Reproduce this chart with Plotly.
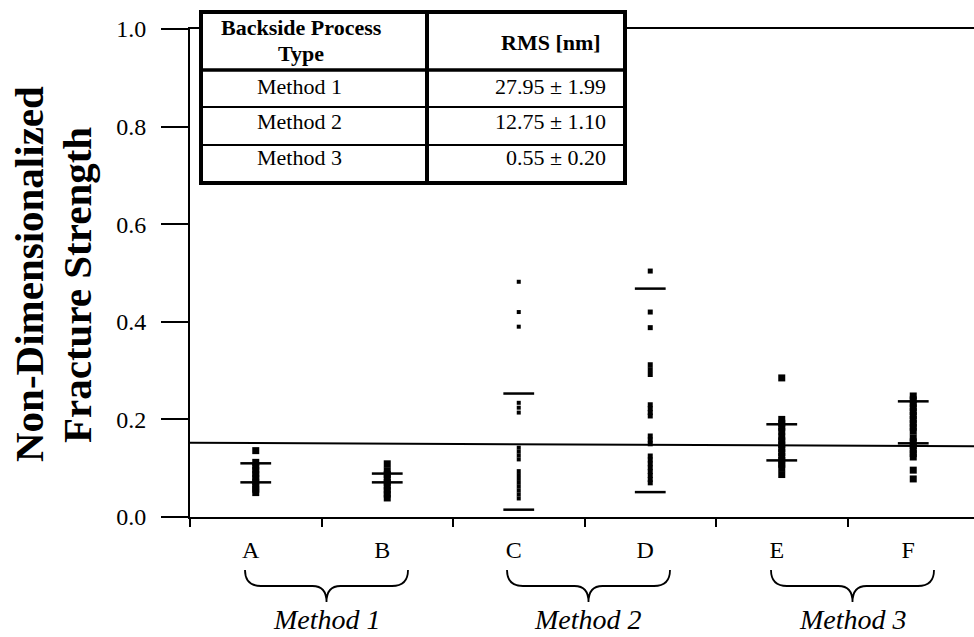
import plotly.graph_objects as go

# ---------------- data ----------------
categories = ["A", "B", "C", "D", "E", "F"]

points_A = [0.136, 0.112, 0.104, 0.096, 0.088, 0.080, 0.072, 0.064, 0.057, 0.050]
points_B = [0.109, 0.095, 0.087, 0.079, 0.071, 0.063, 0.055, 0.047, 0.039]
points_C = [0.482, 0.420, 0.390, 0.234, 0.224, 0.214, 0.142, 0.134, 0.126, 0.118,
            0.094, 0.086, 0.078, 0.070, 0.062, 0.054, 0.046, 0.038]
points_D = [0.504, 0.420, 0.388, 0.312, 0.302, 0.292, 0.230, 0.222, 0.214, 0.207,
            0.166, 0.158, 0.150, 0.125, 0.117, 0.109, 0.101, 0.093, 0.085, 0.077, 0.070]
points_E = [0.285, 0.200, 0.192, 0.184, 0.176, 0.164, 0.156, 0.148, 0.140, 0.132,
            0.124, 0.116, 0.108, 0.101, 0.087]
points_F = [0.248, 0.240, 0.232, 0.224, 0.216, 0.208, 0.200, 0.192, 0.184, 0.176,
            0.162, 0.154, 0.146, 0.138, 0.130, 0.123, 0.096, 0.078]

bar_upper = [0.110, 0.089, 0.253, 0.468, 0.190, 0.237]
bar_lower = [0.071, 0.071, 0.015, 0.051, 0.116, 0.151]

threshold_line = [0.152, 0.145]   # reference line, left end / right end

y_ticks = [0.0, 0.2, 0.4, 0.6, 0.8, 1.0]
y_tick_labels = ["0.0", "0.2", "0.4", "0.6", "0.8", "1.0"]

groups = ["Method 1", "Method 2", "Method 3"]
table_header = ["Backside Process", "Type", "RMS [nm]"]
table_methods = ["Method 1", "Method 2", "Method 3"]
table_rms = ["27.95 ± 1.99", "12.75 ± 1.10", "0.55 ± 0.20"]

# ---------------- layout helpers ----------------
W, H = 974, 637
L, R, T, B = 190, 974, 29, 517
FONT = "Liberation Serif, Times New Roman, serif"


def px_x(px):
    return (px - L) / (R - L)


def px_y(py):
    return (B - py) / (B - T)


all_points = [points_A, points_B, points_C, points_D, points_E, points_F]
marker_sizes = {"A": 7, "B": 7, "C": 4, "D": 5, "E": 7, "F": 7}

fig = go.Figure()

for cat, pts in zip(categories, all_points):
    fig.add_trace(go.Scatter(
        x=[cat] * len(pts), y=pts, mode="markers",
        marker=dict(symbol="square", size=marker_sizes[cat], color="black",
                    line=dict(width=0)),
        showlegend=False, hoverinfo="y"))

for arr in (bar_upper, bar_lower):
    fig.add_trace(go.Scatter(
        x=categories, y=arr, mode="markers",
        marker=dict(symbol="line-ew", size=22, color="black",
                    line=dict(width=2.5, color="black")),
        showlegend=False, hoverinfo="y"))

shapes = []
# reference line across plot
shapes.append(dict(type="line", xref="paper", yref="y", x0=0, x1=1,
                   y0=threshold_line[0], y1=threshold_line[1],
                   line=dict(color="black", width=2), layer="below"))

# table
tx0, tx1, tmid = 201, 625, 427
ty0, ty1 = 12, 183
row_lines = [70, 107, 145]
shapes.append(dict(type="rect", xref="paper", yref="paper",
                   x0=px_x(tx0), x1=px_x(tx1), y0=px_y(ty1), y1=px_y(ty0),
                   fillcolor="white", line=dict(color="black", width=4), layer="above"))
for i, ry in enumerate(row_lines):
    shapes.append(dict(type="line", xref="paper", yref="paper",
                       x0=px_x(tx0), x1=px_x(tx1), y0=px_y(ry), y1=px_y(ry),
                       line=dict(color="black", width=3.5 if i == 0 else 2), layer="above"))
shapes.append(dict(type="line", xref="paper", yref="paper",
                   x0=px_x(tmid), x1=px_x(tmid), y0=px_y(ty1), y1=px_y(ty0),
                   line=dict(color="black", width=4), layer="above"))

# braces under category groups
brace_spans = [(245, 408), (507, 670), (771, 934)]
by_top, by_mid, by_tip = 570, 586, 602


def P(px, py):
    return f"{px_x(px):.5f},{px_y(py):.5f}"


for (bx0, bx1) in brace_spans:
    bm = (bx0 + bx1) / 2
    path = (f"M{P(bx0, by_top)} Q{P(bx0, by_mid)} {P(bx0 + 16, by_mid)} "
            f"L{P(bm - 14, by_mid)} Q{P(bm, by_mid)} {P(bm, by_tip)} "
            f"Q{P(bm, by_mid)} {P(bm + 14, by_mid)} "
            f"L{P(bx1 - 16, by_mid)} Q{P(bx1, by_mid)} {P(bx1, by_top)}")
    shapes.append(dict(type="path", xref="paper", yref="paper", path=path,
                       line=dict(color="black", width=1.8)))

annotations = []
# table text
cell_font = dict(family=FONT, size=22, color="black")
for txt, cx, cy in [(table_header[0], 301, 27), (table_header[1], 301, 53),
                    (table_header[2], 551, 42)]:
    annotations.append(dict(xref="paper", yref="paper", x=px_x(cx), y=px_y(cy),
                            text="<b>" + txt + "</b>", showarrow=False, font=cell_font,
                            xanchor="center", yanchor="middle"))
row_y = [87, 121, 157]
for m, r, ry in zip(table_methods, table_rms, row_y):
    annotations.append(dict(xref="paper", yref="paper", x=px_x(299), y=px_y(ry), text=m,
                            showarrow=False, font=cell_font, xanchor="center", yanchor="middle"))
    annotations.append(dict(xref="paper", yref="paper", x=px_x(608), y=px_y(ry), text=r,
                            showarrow=False, font=cell_font, xanchor="right", yanchor="middle"))

# group labels
group_centers = [327, 588, 853]
for g, gx in zip(groups, group_centers):
    annotations.append(dict(xref="paper", yref="paper", x=px_x(gx), y=px_y(619),
                            text=f"<i>{g}</i>", showarrow=False,
                            font=dict(family=FONT, size=28, color="black"),
                            xanchor="center", yanchor="middle"))

# y title (two lines)
title_font = dict(family=FONT, size=41, color="black")
annotations.append(dict(xref="paper", yref="paper", x=px_x(29), y=px_y(274),
                        text="<b>Non-Dimensionalized</b>", textangle=-90, showarrow=False,
                        font=title_font, xanchor="center", yanchor="middle"))
annotations.append(dict(xref="paper", yref="paper", x=px_x(77), y=px_y(285),
                        text="<b>Fracture Strength</b>", textangle=-90, showarrow=False,
                        font=title_font, xanchor="center", yanchor="middle"))

n_cat = len(categories)
fig.update_layout(
    width=W, height=H,
    margin=dict(l=L, r=W - R, t=T, b=H - B, pad=0, autoexpand=False),
    paper_bgcolor="white", plot_bgcolor="white",
    shapes=shapes, annotations=annotations,
    font=dict(family=FONT, color="black"),
    xaxis=dict(type="category", categoryorder="array", categoryarray=categories,
               range=[-0.5, -0.5 + n_cat * (R - L) / 789.0], automargin=False,
               showline=True, linecolor="black", linewidth=2, mirror=True,
               showgrid=False, zeroline=False,
               ticks="outside", ticklen=8, tickwidth=1.5, tickcolor="black",
               tickson="boundaries", ticklabelstandoff=10, ticklabelshift=-5,
               tickfont=dict(family=FONT, size=24, color="black")),
    yaxis=dict(range=[0, 1], tickvals=y_ticks, ticktext=y_tick_labels, automargin=False,
               showline=True, linecolor="black", linewidth=2,
               showgrid=False, zeroline=False,
               ticks="outside", ticklen=27, tickwidth=2, tickcolor="black",
               ticklabelstandoff=10,
               tickfont=dict(family=FONT, size=24, color="black")),
)

fig.write_html("out.html", config={"displayModeBar": False},
               post_script="document.body.style.margin='0';document.body.style.overflow='hidden';")
